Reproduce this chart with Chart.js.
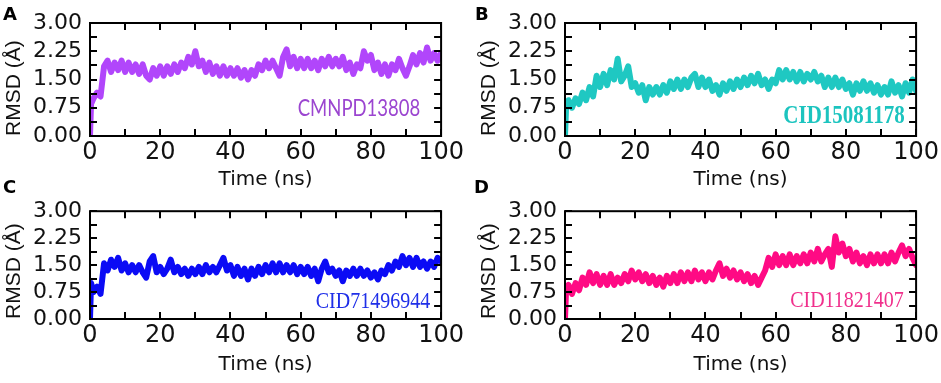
<!DOCTYPE html>
<html>
<head>
<meta charset="utf-8">
<script src="https://cdn.jsdelivr.net/npm/chart.js@4"></script>
<style>
  body { margin:0; background:#fff; }
  #wrap { position:relative; width:941px; height:383px; overflow:hidden; background:#fff; }
  .cv { position:absolute; }
  .plabel { position:absolute; font-family:"DejaVu Sans", sans-serif; font-weight:bold; font-size:18px; color:#000; line-height:1; }
  .clabel { position:absolute; white-space:nowrap; line-height:1; transform:translate(-50%,-50%) scaleY(1.2); }
</style>
</head>
<body>
<div id="wrap">
  <canvas id="cA" class="cv" width="466" height="200" style="left:0;top:0"></canvas>
  <canvas id="cB" class="cv" width="466" height="200" style="left:475px;top:0"></canvas>
  <canvas id="cC" class="cv" width="466" height="193" style="left:0;top:190px"></canvas>
  <canvas id="cD" class="cv" width="466" height="193" style="left:475px;top:190px"></canvas>
  <div class="plabel" style="left:3px;top:5px">A</div>
  <div class="plabel" style="left:475px;top:5px">B</div>
  <div class="plabel" style="left:3px;top:178px">C</div>
  <div class="plabel" style="left:474px;top:178px">D</div>
  <div class="clabel" style="left:359px;top:108px;font-family:Lato,'Open Sans',sans-serif;font-size:18.5px;color:#9B45D0">CMNPD13808</div>
  <div class="clabel" style="left:844px;top:115px;font-family:'Liberation Serif','Times New Roman',serif;font-weight:bold;font-size:21px;color:#1CC4BF">CID15081178</div>
  <div class="clabel" style="left:373px;top:300px;font-family:'Liberation Serif','Times New Roman',serif;font-size:20px;color:#1F2FE8">CID71496944</div>
  <div class="clabel" style="left:847px;top:299px;font-family:'Liberation Serif','Times New Roman',serif;font-size:20px;color:#F0308C">CID11821407</div>
</div>
<script>
// ---- data (time in ns, RMSD in Å) ----
const times = [0, 0.3,
  1,2,3,4,5,6,7,8,9,10,
  11,12,13,14,15,16,17,18,19,20,
  21,22,23,24,25,26,27,28,29,30,
  31,32,33,34,35,36,37,38,39,40,
  41,42,43,44,45,46,47,48,49,50,
  51,52,53,54,55,56,57,58,59,60,
  61,62,63,64,65,66,67,68,69,70,
  71,72,73,74,75,76,77,78,79,80,
  81,82,83,84,85,86,87,88,89,90,
  91,92,93,94,95,96,97,98,99,100];

const rmsdCMNPD13808 = [0, 0.85,
  1.0,1.15,1.05,1.85,2.0,1.7,1.95,1.75,2.0,1.7,
  1.95,1.7,1.9,1.65,1.9,1.6,1.5,1.8,1.6,1.85,
  1.6,1.85,1.65,1.9,1.7,1.95,1.8,2.1,1.9,2.25,
  1.85,2.0,1.7,1.95,1.65,1.85,1.6,1.85,1.6,1.8,
  1.6,1.8,1.55,1.75,1.5,1.75,1.6,1.9,1.75,2.0,
  1.8,2.0,1.8,1.6,2.1,2.3,1.85,2.1,1.8,2.05,
  1.8,2.05,1.8,2.0,1.75,2.05,1.85,2.1,1.85,2.05,
  1.85,2.1,1.75,1.95,1.65,1.9,1.8,2.25,2.0,2.15,
  1.75,1.95,1.65,1.9,1.6,1.9,1.75,2.05,1.8,1.6,
  1.85,2.15,1.9,2.2,1.95,2.35,2.0,2.2,2.0,2.2];

const rmsdCID15081178 = [0, 0.75,
  0.95,0.75,1.0,0.85,1.15,0.95,1.3,1.05,1.6,1.3,
  1.65,1.35,1.75,1.5,2.05,1.45,1.6,1.85,1.3,1.4,
  1.15,1.35,0.95,1.3,1.1,1.3,1.1,1.35,1.15,1.45,
  1.25,1.5,1.25,1.5,1.3,1.55,1.65,1.3,1.55,1.3,
  1.5,1.2,1.35,1.1,1.4,1.2,1.45,1.25,1.5,1.3,
  1.55,1.35,1.6,1.4,1.65,1.35,1.5,1.25,1.5,1.4,
  1.75,1.5,1.75,1.5,1.7,1.45,1.7,1.45,1.65,1.5,
  1.7,1.45,1.6,1.3,1.55,1.3,1.55,1.3,1.5,1.25,
  1.4,1.1,1.4,1.2,1.45,1.2,1.4,1.15,1.35,1.1,
  1.3,1.1,1.45,1.15,1.35,1.05,1.4,1.15,1.5,1.2];

const rmsdCID71496944 = [0, 1.0,
  0.75,0.9,0.7,1.55,1.35,1.65,1.45,1.7,1.35,1.55,
  1.3,1.5,1.3,1.5,1.3,1.15,1.6,1.75,1.3,1.45,
  1.25,1.4,1.65,1.3,1.45,1.25,1.4,1.2,1.4,1.25,
  1.45,1.25,1.5,1.3,1.45,1.3,1.5,1.7,1.35,1.5,
  1.2,1.45,1.2,1.4,1.1,1.4,1.2,1.45,1.25,1.5,
  1.3,1.55,1.3,1.55,1.3,1.5,1.3,1.5,1.25,1.45,
  1.25,1.45,1.2,1.4,1.05,1.4,1.6,1.3,1.4,1.2,
  1.35,1.05,1.35,1.2,1.4,1.2,1.4,1.2,1.35,1.15,
  1.3,1.1,1.35,1.25,1.5,1.35,1.6,1.45,1.75,1.5,
  1.7,1.45,1.7,1.45,1.6,1.4,1.6,1.45,1.7,1.6];

const rmsdCID11821407 = [0, 0.8,
  0.95,0.7,1.0,0.8,1.15,0.95,1.3,1.0,1.25,0.95,
  1.2,0.95,1.25,0.95,1.15,1.0,1.25,1.05,1.35,1.1,
  1.3,1.05,1.25,1.0,1.2,0.95,1.15,0.9,1.2,1.0,
  1.25,1.0,1.3,1.05,1.3,1.05,1.35,1.1,1.3,1.05,
  1.3,1.1,1.35,1.55,1.2,1.4,1.15,1.35,1.1,1.3,
  1.05,1.25,1.0,1.2,0.95,1.15,1.35,1.7,1.45,1.8,
  1.5,1.75,1.5,1.8,1.5,1.75,1.55,1.8,1.55,1.85,
  1.6,1.95,1.6,1.8,1.95,1.45,2.3,1.85,2.1,1.75,
  1.95,1.6,1.85,1.55,1.75,1.5,1.8,1.55,1.8,1.55,
  1.8,1.55,1.85,1.6,1.85,2.05,1.75,1.95,1.7,1.5];

// axis settings
const xMin = 0, xMax = 100, xLabelStep = 20, xTickStep = 10;
const yMin = 0, yMax = 3, yLabelStep = 0.75, yTickStep = 0.375;
const xTitle = 'Time (ns)';
const yTitle = 'RMSD (Å)';

// inward ticks + frame drawn from the chart's own scales
const framePlugin = {
  id: 'frame',
  afterDatasetsDraw(chart) {
    const { ctx, chartArea: a, scales: { x, y } } = chart;
    const len = 7;
    ctx.save();
    ctx.strokeStyle = '#000';
    ctx.lineWidth = 2;
    ctx.beginPath();
    for (let v = xMin; v <= xMax + 1e-9; v += xTickStep) {
      const px = Math.round(x.getPixelForValue(v));
      ctx.moveTo(px, a.bottom); ctx.lineTo(px, a.bottom - len);
      ctx.moveTo(px, a.top); ctx.lineTo(px, a.top + len);
    }
    for (let v = yMin; v <= yMax + 1e-9; v += yTickStep) {
      const py = Math.round(y.getPixelForValue(v));
      ctx.moveTo(a.left, py); ctx.lineTo(a.left + len, py);
      ctx.moveTo(a.right, py); ctx.lineTo(a.right - len, py);
    }
    ctx.stroke();
    ctx.strokeRect(a.left, a.top, a.right - a.left, a.bottom - a.top);
    ctx.restore();
  }
};

function makeChart(id, values, color, padTop, titlePadBottom) {
  new Chart(document.getElementById(id), {
    type: 'line',
    data: {
      datasets: [{
        data: times.map((t, i) => ({ x: t, y: values[i] })),
        borderColor: color,
        borderWidth: 6,
        borderJoinStyle: 'round',
        borderCapStyle: 'round',
        pointRadius: 0,
        tension: 0,
        fill: false
      }]
    },
    options: {
      responsive: false,
      animation: false,
      devicePixelRatio: 1,
      layout: { padding: { top: padTop, right: 23, left: 0, bottom: 0 } },
      plugins: { legend: { display: false }, tooltip: { enabled: false } },
      scales: {
        x: {
          type: 'linear', min: xMin, max: xMax,
          grid: { display: false, drawTicks: false },
          border: { display: false },
          ticks: { stepSize: xLabelStep, padding: 2, maxRotation: 0, autoSkip: false, color: '#111',
                   font: { family: 'DejaVu Sans', size: 24 } },
          title: { display: true, text: xTitle, color: '#111', padding: { top: 0, bottom: titlePadBottom },
                   font: { family: 'DejaVu Sans', size: 20 } },
          afterFit(s) { s.height = 64; }
        },
        y: {
          min: yMin, max: yMax,
          grid: { display: false, drawTicks: false },
          border: { display: false },
          ticks: { stepSize: yLabelStep, padding: 8, autoSkip: false, color: '#111',
                   font: { family: 'DejaVu Sans', size: 22 },
                   callback: v => Number(v).toFixed(2) },
          title: { display: true, text: yTitle, align: 'start', color: '#111', padding: { top: 2, bottom: 0 },
                   font: { family: 'Liberation Sans', size: 21 } },
          afterFit(s) { s.width = 90; }
        }
      }
    },
    plugins: [framePlugin]
  });
}

makeChart('cA', rmsdCMNPD13808, '#B146FB', 23, 8);
makeChart('cB', rmsdCID15081178, '#1FC8C2', 23, 8);
makeChart('cC', rmsdCID71496944, '#0B0BF5', 15, 6);
makeChart('cD', rmsdCID11821407, '#FF0A84', 15, 6);
</script>
</body>
</html>
